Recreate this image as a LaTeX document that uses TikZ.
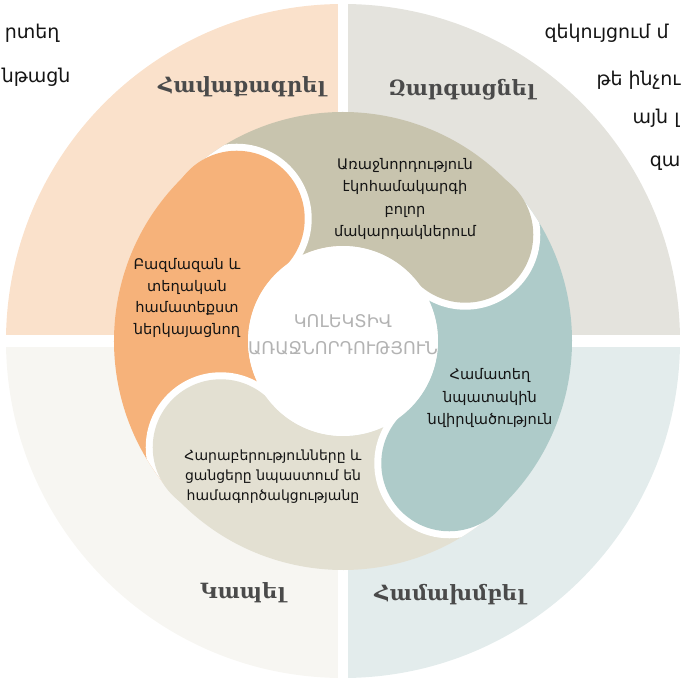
\documentclass[tikz,border=0pt]{standalone}
\usepackage{fontspec}
\setmainfont{DejaVu Sans}
\newfontfamily\lblfont{DejaVu Serif}
\definecolor{qTL}{HTML}{FAE1CB}
\definecolor{qTR}{HTML}{E4E3DD}
\definecolor{qBL}{HTML}{F7F6F2}
\definecolor{qBR}{HTML}{E3ECEC}
\definecolor{pTan}{HTML}{C8C4AE}
\definecolor{pOrange}{HTML}{F6B27A}
\definecolor{pTeal}{HTML}{AECBC9}
\definecolor{pBeige}{HTML}{E3E0D2}
\definecolor{lblgray}{HTML}{4A4A4A}
\definecolor{ctrgray}{HTML}{B3B3B3}
\definecolor{txtdark}{HTML}{141414}
\newcommand\ringsector[3]{\fill[#1] (#2:229) arc[start angle=#2, end angle=#3, radius=229] -- (#3:95) arc[start angle=#3, end angle=#2, radius=95] -- cycle;}
\newcommand\ringjunction[3]{%
  \begin{scope}
    \clip (0,0) circle (229);
    \clip (0,0) -- (#2:420) -- (#3:420) -- cycle;
    \fill[white] (#2:162) circle (75);
  \end{scope}
  \fill[#1] (#2:162) circle (68);}
\tikzset{
  ringtext/.style={text=txtdark, align=center, font=\fontsize{14.6}{22.5}\selectfont},
  quadlabel/.style={text=lblgray, font=\lblfont\bfseries\fontsize{21}{25}\selectfont},
  edgetext/.style={text=txtdark, font=\fontsize{19}{23}\selectfont}
}
\begin{document}
\begin{tikzpicture}[x=1pt,y=1pt]
\useasboundingbox (0,0) rectangle (685,686);
\clip (0,0) rectangle (685,686);
% quadrants
\begin{scope}
  \clip (343,345) circle (337);
  \fill[qTL] (0,351) rectangle (338,686);
  \fill[qTR] (348,351) rectangle (685,686);
  \fill[qBL] (0,0) rectangle (338,339);
  \fill[qBR] (348,0) rectangle (685,339);
\end{scope}
% ring
\begin{scope}[shift={(343,345)}]
  \ringsector{pTan}{41}{131}
  \ringsector{pOrange}{131}{221}
  \ringsector{pBeige}{221}{311}
  \ringsector{pTeal}{-49}{41}
  \ringjunction{pTan}{41}{-49}
  \ringjunction{pOrange}{131}{41}
  \ringjunction{pBeige}{221}{131}
  \ringjunction{pTeal}{311}{221}
  \fill[white] (0,0) circle (95);
\end{scope}
% ring texts
\node[ringtext] (lead) at (405,487) {Առաջնորդություն\\էկոհամակարգի\\բոլոր\\մակարդակներում};
\node[ringtext, font=\fontsize{14.6}{21.5}\selectfont] (ctx) at (187,388) {Բազմազան և\\տեղական\\համատեքստ\\ներկայացնող};
\node[ringtext] (goal) at (490,288) {Համատեղ\\նպատակին\\նվիրվածություն};
\node[ringtext, font=\fontsize{14}{20}\selectfont] (rel) at (273,209) {Հարաբերությունները և\\ցանցերը նպաստում են\\համագործակցությանը};
\node[text=ctrgray, align=center, font=\fontsize{17.5}{27}\selectfont] (core) at (343,351) {ԿՈԼԵԿՏԻՎ\\ԱՌԱՋՆՈՐԴՈՒԹՅՈՒՆ};
% quadrant labels
\node[quadlabel] (q1) at (242,599) {Հավաքագրել};
\node[quadlabel] (q2) at (462,596) {Զարգացնել};
\node[quadlabel] (q3) at (243,93) {Կապել};
\node[quadlabel] (q4) at (450,91) {Համախմբել};
% cut-off body text at the edges
\node[edgetext, anchor=east] (e1) at (63,653) {րտեղ};
\node[edgetext, anchor=east] (e2) at (74,609) {նթացն};
\node[edgetext, anchor=west] (e3) at (541,653) {զեկույցում մ};
\node[edgetext, anchor=west] (e4) at (593,606) {թե ինչու};
\node[edgetext, anchor=west] (e5) at (629,568) {այն լ};
\node[edgetext, anchor=east] (e6) at (684,523) {զա};
\end{tikzpicture}
\end{document}
